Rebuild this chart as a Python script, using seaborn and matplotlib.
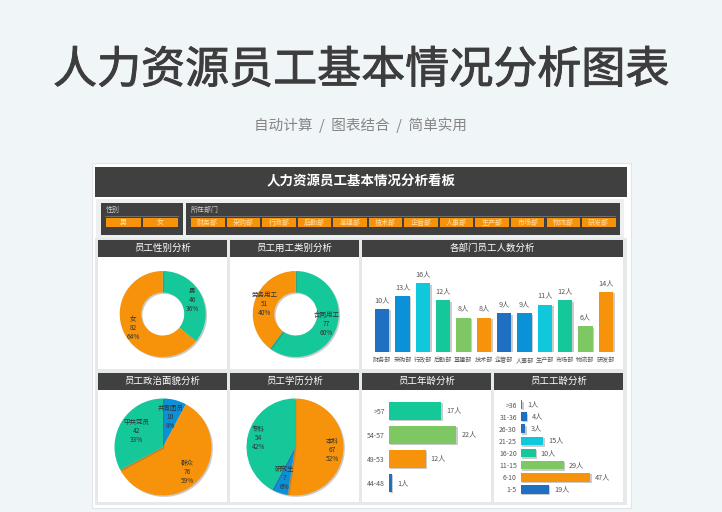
import matplotlib
matplotlib.use("Agg")
import matplotlib.pyplot as plt
import matplotlib.patheffects as pe
from matplotlib.patches import Rectangle
import numpy as np
import pandas as pd
import seaborn as sns

sns.set_theme(style="white")
plt.rcParams['font.family'] = ['Noto Sans CJK SC', 'DejaVu Sans']

gender_names = ['男', '女']
gender_vals = [46, 82]
gender_pct = ['36%', '64%']
type_names = ['合同用工', '劳务用工']
type_vals = [77, 51]
type_pct = ['60%', '40%']
party_names = ['共青团员', '群众', '中共党员']
party_vals = [10, 76, 42]
party_pct = ['8%', '59%', '33%']
edu_names = ['本科', '研究生', '专科']
edu_vals = [67, 7, 54]
edu_pct = ['52%', '6%', '42%']
dept_names = ['财务部', '采购部', '行政部', '后勤部', '基建部', '技术部', '企管部', '人事部', '生产部', '市场部', '物流部', '研发部']
dept_vals = [10, 13, 16, 12, 8, 8, 9, 9, 11, 12, 6, 14]
age_names = ['>57', '54-57', '49-53', '44-48']
age_vals = [17, 22, 12, 1]
tenure_names = ['>36', '31-36', '26-30', '21-25', '16-20', '11-15', '6-10', '1-5']
tenure_vals = [1, 4, 3, 15, 10, 29, 47, 19]

BLUE, SKY, CYAN, TEAL, LIME, ORANGE = '#1f6fc2', '#0a91d8', '#10c8dc', '#14c89a', '#7dc862', '#f7930a'
DARK = '#404040'
dept_colors = [BLUE, SKY, CYAN, TEAL, LIME, ORANGE, BLUE, SKY, CYAN, TEAL, LIME, ORANGE]
age_colors = [TEAL, LIME, ORANGE, BLUE]
tenure_colors = [SKY, BLUE, BLUE, CYAN, TEAL, LIME, ORANGE, BLUE]

W, H = 722, 512
fig = plt.figure(figsize=(W / 100, H / 100), dpi=100, facecolor='#f0f5f8')
bg = fig.add_axes([0, 0, 1, 1])
bg.set_xlim(0, W)
bg.set_ylim(H, 0)
bg.axis('off')


def rect(x0, y0, x1, y1, color, **kw):
    bg.add_patch(Rectangle((x0, y0), x1 - x0, y1 - y0, facecolor=color, edgecolor=kw.pop('ec', 'none'), lw=kw.pop('lw', 0), **kw))


def axes_px(x0, y0, x1, y1):
    ax = fig.add_axes([x0 / W, 1 - y1 / H, (x1 - x0) / W, (y1 - y0) / H])
    ax.patch.set_alpha(0)
    return ax


shadow = [pe.withSimplePatchShadow(offset=(1.0, -1.0), shadow_rgbFace='#555555', alpha=0.3)]

bg.text(361, 70, '人力资源员工基本情况分析图表', ha='center', va='center', fontsize=31.7, color='#3d3d3d',
        path_effects=[pe.withStroke(linewidth=0.7, foreground='#3d3d3d')])
bg.text(361, 125, '自动计算  /  图表结合  /  简单实用', ha='center', va='center', fontsize=10.5, color='#858585')

rect(92, 163, 631, 508, 'white', ec='#e2e6e8', lw=0.8)
rect(95, 167, 627, 197, DARK)
bg.text(361, 181.5, '人力资源员工基本情况分析看板', ha='center', va='center', fontsize=9.7, color='white', fontweight='bold')

# slicers
rect(96, 199, 624, 238, '#eef0f0')
rect(101, 203, 183, 235, DARK)
rect(186, 203, 620, 235, DARK)
bg.plot([105, 178], [216, 216], color='#777777', lw=0.6)
bg.plot([190, 615], [216, 216], color='#777777', lw=0.6)
bg.text(106, 210, '性别', fontsize=5, color='#cccccc', va='center')
bg.text(191, 210, '所在部门', fontsize=5, color='#cccccc', va='center')
for x0, x1, name in [(106, 141, '男'), (143, 178, '女')]:
    rect(x0, 218, x1, 227, ORANGE)
    bg.text((x0 + x1) / 2, 222.5, name, ha='center', va='center', fontsize=5, color='#ffe0b0')
for i, name in enumerate(dept_names):
    x0 = 191 + i * 35.55
    rect(x0, 218, x0 + 33.5, 227, ORANGE)
    bg.text(x0 + 16.7, 222.5, name, ha='center', va='center', fontsize=5, color='#ffe0b0')

# panels
panels = [(98, 240, 227, 369, '员工性别分析'), (230, 240, 359, 369, '员工用工类别分析'),
          (362, 240, 623, 369, '各部门员工人数分析'), (98, 373, 227, 502, '员工政治面貌分析'),
          (230, 373, 359, 502, '员工学历分析'), (362, 373, 491, 502, '员工年龄分析'),
          (494, 373, 623, 502, '员工工龄分析')]
rect(95, 238, 627, 505, '#e6e9ea')
for x0, y0, x1, y1, title in panels:
    rect(x0, y0, x1, y1, 'white')
    rect(x0, y0, x1, y0 + 17, DARK)
    bg.text((x0 + x1) / 2, y0 + 8.3, title, ha='center', va='center', fontsize=6.8, color='white')


def pie(cx, cy, r, names, vals, pct, colors, dist, hole=None):
    ax = axes_px(cx - r, cy - r, cx + r, cy + r)
    props = {'linewidth': 0}
    if hole:
        props['width'] = hole
    wedges, _ = ax.pie(vals, colors=colors, startangle=90, counterclock=False, radius=1, wedgeprops=props,
                       frame=False)
    ax.set_xlim(-1, 1)
    ax.set_ylim(-1, 1)
    for w, n, v, p, d in zip(wedges, names, vals, pct, dist):
        w.set_path_effects(shadow)
        a = np.deg2rad((w.theta1 + w.theta2) / 2)
        ax.text(d * np.cos(a), d * np.sin(a), f'{n}\n{v}\n{p}', ha='center', va='center',
                fontsize=4.7, color='#333333', linespacing=1.15)


pie(162.7, 314, 43, gender_names, gender_vals, gender_pct, [TEAL, ORANGE], [0.76, 0.76], hole=0.5)
pie(295.7, 314, 43, type_names, type_vals, type_pct, [TEAL, ORANGE], [0.76, 0.76], hole=0.5)
pie(163, 447, 48.5, party_names, party_vals, party_pct, [SKY, ORANGE, TEAL], [0.64, 0.72, 0.63])
pie(295, 447, 48.5, edu_names, edu_vals, edu_pct, [ORANGE, SKY, TEAL], [0.78, 0.68, 0.78])


def style_bars(ax, tick_size):
    ax.set_xlabel('')
    ax.set_ylabel('')
    sns.despine(ax=ax, left=True, bottom=True)
    for c in ax.containers:
        ax.bar_label(c, fmt='%g人', fontsize=5.2, color='#555555', padding=3.5)
        for p in c:
            p.set_path_effects(shadow)
    ax.tick_params(length=0, labelsize=tick_size, colors='#555555', pad=3)
    ax.grid(False)


# department columns
ax = axes_px(372, 266, 616, 352)
df = pd.DataFrame({'dept': dept_names, 'n': dept_vals})
sns.barplot(data=df, x='dept', y='n', hue='dept', palette=dept_colors, width=0.72, legend=False, ax=ax, saturation=1, linewidth=0)
ax.set_xlim(-0.5, 11.5)
ax.set_ylim(0, 20)
ax.set_yticks([])
style_bars(ax, 4.4)

# age bars
ax = axes_px(389, 398.7, 481, 495)
df = pd.DataFrame({'age': age_names, 'n': age_vals})
sns.barplot(data=df, y='age', x='n', hue='age', palette=age_colors, width=0.75, legend=False, ax=ax, saturation=1, orient='h', linewidth=0)
ax.set_xlim(0, 30)
ax.set_ylim(3.5, -0.5)
ax.set_xticks([])
style_bars(ax, 5.0)

# tenure bars
ax = axes_px(521, 398.6, 609.5, 495.3)
df = pd.DataFrame({'tenure': tenure_names, 'n': tenure_vals})
sns.barplot(data=df, y='tenure', x='n', hue='tenure', palette=tenure_colors, width=0.72, legend=False, ax=ax, saturation=1, orient='h', linewidth=0)
ax.set_xlim(0, 60)
ax.set_ylim(7.5, -0.5)
ax.set_xticks([])
style_bars(ax, 5.0)

fig.savefig('out.png', dpi=100, facecolor=fig.get_facecolor())
